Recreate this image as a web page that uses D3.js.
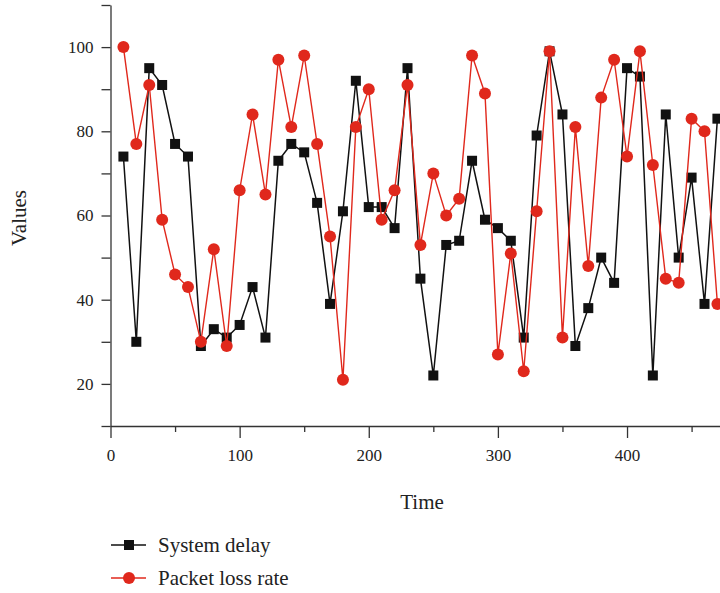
<!DOCTYPE html>
<meta charset="utf-8">
<style>
body { margin: 0; background: #fff; }
text { font-family: "Liberation Serif", "DejaVu Serif", serif; fill: #222; }
.axis path, .axis line { stroke: #333; stroke-width: 1.3; }
.axis text { font-size: 17px; }
</style>
<body>
<script src="https://cdn.jsdelivr.net/npm/d3@7"></script>
<script>

var width = 720
var height = 593

// time steps
var times = [10, 20, 30, 40, 50, 60, 70, 80, 90, 100, 110, 120, 130, 140, 150, 160,
    170, 180, 190, 200, 210, 220, 230, 240, 250, 260, 270, 280, 290, 300, 310, 320,
    330, 340, 350, 360, 370, 380, 390, 400, 410, 420, 430, 440, 450, 460, 470]

var systemDelay = [74, 30, 95, 91, 77, 74, 29, 33, 31, 34, 43, 31, 73, 77, 75, 63,
    39, 61, 92, 62, 62, 57, 95, 45, 22, 53, 54, 73, 59, 57, 54, 31,
    79, 99, 84, 29, 38, 50, 44, 95, 93, 22, 84, 50, 69, 39, 83]

var packetLoss = [100, 77, 91, 59, 46, 43, 30, 52, 29, 66, 84, 65, 97, 81, 98, 77,
    55, 21, 81, 90, 59, 66, 91, 53, 70, 60, 64, 98, 89, 27, 51, 23,
    61, 99, 31, 81, 48, 88, 97, 74, 99, 72, 45, 44, 83, 80, 39]

var xTicks = [0, 100, 200, 300, 400]
var yTicks = [20, 40, 60, 80, 100]

var seriesNames = ['System delay', 'Packet loss rate']

var black = '#111'
var red = '#e0281c'

var svg = d3.select('body').append('svg')
    .attr('width', width)
    .attr('height', height)

var x = d3.scaleLinear().domain([0, 472]).range([110.5, 720])
var y = d3.scaleLinear().domain([10, 110]).range([426, 5])

// x axis: major ticks with labels, minor ticks in between
var xAxis = svg.append('g')
    .attr('class', 'axis')
    .attr('transform', 'translate(0,426)')
    .call(d3.axisBottom(x).tickValues(xTicks).tickSize(12).tickPadding(8).tickSizeOuter(0))
xAxis.selectAll('text').attr('dy', '0.9em')
svg.append('g')
    .attr('class', 'axis')
    .attr('transform', 'translate(0,426)')
    .call(d3.axisBottom(x).tickValues([50, 150, 250, 350, 450]).tickSize(6).tickFormat('').tickSizeOuter(0))
    .select('.domain').remove()

var yAxis = svg.append('g')
    .attr('class', 'axis')
    .attr('transform', 'translate(110.5,0)')
    .call(d3.axisLeft(y).tickValues(yTicks).tickSize(9).tickPadding(8).tickSizeOuter(0))
svg.append('g')
    .attr('class', 'axis')
    .attr('transform', 'translate(110.5,0)')
    .call(d3.axisLeft(y).tickValues([10, 30, 50, 70, 90, 110]).tickSize(9).tickFormat('').tickSizeOuter(0))
    .select('.domain').remove()

svg.append('text')
    .attr('x', 422)
    .attr('y', 509)
    .attr('text-anchor', 'middle')
    .style('font-size', '21px')
    .text('Time')

svg.append('text')
    .attr('transform', 'translate(26,218) rotate(-90)')
    .attr('text-anchor', 'middle')
    .style('font-size', '21px')
    .text('Values')

var line = d3.line()
    .x(function (d) { return x(d[0]) })
    .y(function (d) { return y(d[1]) })

var delayPts = d3.zip(times, systemDelay)
var lossPts = d3.zip(times, packetLoss)

var plot = svg.append('g')

plot.append('path')
    .datum(delayPts)
    .attr('d', line)
    .attr('fill', 'none')
    .attr('stroke', black)
    .attr('stroke-width', 1.5)

plot.selectAll('rect.sd')
    .data(delayPts)
    .enter().append('rect')
    .attr('class', 'sd')
    .attr('x', function (d) { return x(d[0]) - 5 })
    .attr('y', function (d) { return y(d[1]) - 5 })
    .attr('width', 10)
    .attr('height', 10)
    .attr('fill', black)

plot.append('path')
    .datum(lossPts)
    .attr('d', line)
    .attr('fill', 'none')
    .attr('stroke', red)
    .attr('stroke-width', 1.4)

plot.selectAll('circle.pl')
    .data(lossPts)
    .enter().append('circle')
    .attr('class', 'pl')
    .attr('cx', function (d) { return x(d[0]) })
    .attr('cy', function (d) { return y(d[1]) })
    .attr('r', 6)
    .attr('fill', red)

// legend
var legend = svg.append('g').attr('transform', 'translate(111,0)')
var legendY = [545, 578]
seriesNames.forEach(function (name, i) {
    var c = i === 0 ? black : red
    legend.append('line')
        .attr('x1', 0).attr('x2', 35)
        .attr('y1', legendY[i]).attr('y2', legendY[i])
        .attr('stroke', c).attr('stroke-width', 1.5)
    if (i === 0) {
        legend.append('rect')
            .attr('x', 13).attr('y', legendY[i] - 5)
            .attr('width', 10).attr('height', 10)
            .attr('fill', c)
    } else {
        legend.append('circle')
            .attr('cx', 18).attr('cy', legendY[i])
            .attr('r', 6).attr('fill', c)
    }
    legend.append('text')
        .attr('x', 47)
        .attr('y', legendY[i])
        .attr('dy', '0.35em')
        .style('font-size', '21px')
        .text(name)
})

</script>
</body>
